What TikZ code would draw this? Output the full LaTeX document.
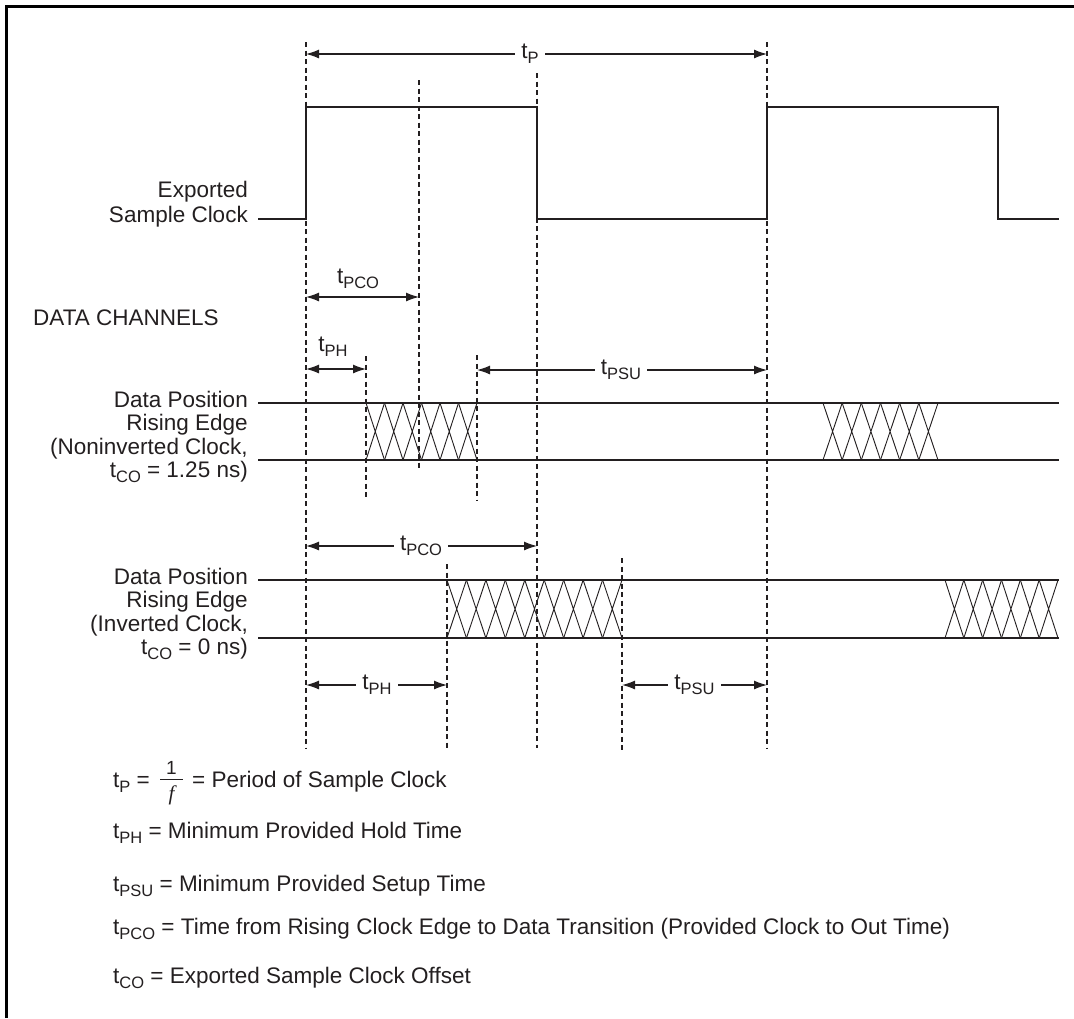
\documentclass[tikz,border=0pt]{standalone}
\usepackage{fontspec}
\setmainfont{Liberation Sans}
\newfontfamily\fracfont{Liberation Serif}
\usetikzlibrary{arrows.meta}
\definecolor{ink}{HTML}{231F20}
\newcommand\ts[1]{t\raisebox{-5pt}{\fontsize{16.5}{16.5}\selectfont #1}}
\newcommand\hatchrow[5]{% x1 x2 n ytop ybot
  \pgfmathsetmacro\hw{(#2-#1)/#3}
  \foreach \i in {1,...,#3}{
    \draw[hatchline] ({#1+(\i-1)*\hw},#4) -- ({#1+\i*\hw},#5)
                     ({#1+(\i-1)*\hw},#5) -- ({#1+\i*\hw},#4);
  }}
\begin{document}
\begin{tikzpicture}[x=1pt,y=-1pt,
  every node/.style={inner sep=0pt, text=ink, font=\fontsize{22.5}{25}\selectfont},
  wave/.style={line width=1.3pt, draw=ink},
  guide/.style={line width=1.1pt, draw=ink, dash pattern=on 5pt off 3.5pt},
  dimarrow/.style={line width=1.2pt, draw=ink, {Latex[length=13pt,width=9pt]}-{Latex[length=13pt,width=9pt]}},
  hatchline/.style={line width=0.9pt, draw=ink},
  gaplbl/.style={fill=white, inner xsep=6pt, inner ysep=1pt},
  leftlbl/.style={anchor=base east},
  legend/.style={anchor=base west}]
\useasboundingbox (0,0) rectangle (1074,1018);
% frame
\draw[line width=3.3pt, draw=black] (6.7,1018) -- (6.7,6.7) -- (1074,6.7);

% guide coordinates
\coordinate (g1t) at (306,42);  \coordinate (g1b) at (306,748);
\coordinate (g2t) at (537,73);  \coordinate (g2b) at (537,748);
\coordinate (g3t) at (767,42);  \coordinate (g3b) at (767,748);
\coordinate (g4t) at (419,80);  \coordinate (g4b) at (419,468);
\coordinate (g5t) at (366,356); \coordinate (g5b) at (366,500);
\coordinate (g6t) at (477,355); \coordinate (g6b) at (477,500);
\coordinate (g7t) at (447,564); \coordinate (g7b) at (447,748);
\coordinate (g8t) at (622,558); \coordinate (g8b) at (622,752);
\foreach \g in {1,...,8}{\draw[guide] (g\g t) -- (g\g b);}

% clock
\draw[wave] (258,219) -- (306,219) -- (306,107) -- (537,107) -- (537,219)
  -- (767,219) -- (767,107) -- (998,107) -- (998,219) -- (1059,219);

% data rows
\draw[wave] (258,403) -- (1059,403);
\draw[wave] (258,460) -- (1059,460);
\draw[wave] (258,580) -- (1059,580);
\draw[wave] (258,638) -- (1059,638);
\hatchrow{366}{477}{6}{403}{460}
\hatchrow{823}{938}{6}{403}{460}
\hatchrow{447}{622}{9}{580}{638}
\hatchrow{945}{1058}{6}{580}{638}

% dimension arrows
\coordinate (aP1) at (306,54);   \coordinate (aP2) at (767,54);
\coordinate (aC1) at (306,297);  \coordinate (aC2) at (419,297);
\coordinate (aH1) at (306,369);  \coordinate (aH2) at (366,369);
\coordinate (aS1) at (477,370);  \coordinate (aS2) at (767,370);
\coordinate (bC1) at (306,546);  \coordinate (bC2) at (537,546);
\coordinate (bH1) at (306,685);  \coordinate (bH2) at (447,685);
\coordinate (bS1) at (622,685);  \coordinate (bS2) at (767,685);
\draw[dimarrow] (aP1) -- (aP2);
\draw[dimarrow] (aC1) -- (aC2);
\draw[dimarrow] (aH1) -- (aH2);
\draw[dimarrow] (aS1) -- (aS2);
\draw[dimarrow] (bC1) -- (bC2);
\draw[dimarrow] (bH1) -- (bH2);
\draw[dimarrow] (bS1) -- (bS2);
\node[gaplbl] (ltP) at (530,53.5) {\ts{P}};
\node[anchor=base] (ltPCO1) at (358,283) {\ts{PCO}};
\node[anchor=base] (ltPH1) at (333,351) {\ts{PH}};
\node[gaplbl] (ltPSU1) at (621,370) {\ts{PSU}};
\node[gaplbl] (ltPCO2) at (421,546) {\ts{PCO}};
\node[gaplbl] (ltPH2) at (377,685) {\ts{PH}};
\node[gaplbl] (ltPSU2) at (694.5,685) {\ts{PSU}};

% left labels
\node[leftlbl] (c1) at (248,197) {Exported};
\node[leftlbl] (c2) at (248,222) {Sample Clock};
\node[anchor=base west] (dc) at (33,325) {DATA CHANNELS};
\node[leftlbl] (r1a) at (248,407) {Data Position};
\node[leftlbl] (r1b) at (248,430.5) {Rising Edge};
\node[leftlbl] (r1c) at (248,454) {(Noninverted Clock,};
\node[leftlbl] (r1d) at (248,477) {\ts{CO} = 1.25 ns)};
\node[leftlbl] (r2a) at (248,584) {Data Position};
\node[leftlbl] (r2b) at (248,607.5) {Rising Edge};
\node[leftlbl] (r2c) at (248,631) {(Inverted Clock,};
\node[leftlbl] (r2d) at (248,654) {\ts{CO} = 0 ns)};

% legend
\node[legend] (L1) at (113,787) {\ts{P} =};
\node[anchor=base] (L1n) at (171.5,774) {\fontsize{19}{19}\selectfont 1};
\coordinate (fb1) at (160,779.5); \coordinate (fb2) at (183,779.5);
\draw[line width=1pt, draw=ink] (fb1) -- (fb2);
\node[anchor=base] (L1d) at (171.5,800) {\fracfont\itshape\fontsize{21}{21}\selectfont f};
\node[legend] (L1r) at (192,787) {= Period of Sample Clock};
\node[legend] (L2) at (113,838) {\ts{PH} = Minimum Provided Hold Time};
\node[legend] (L3) at (113,891) {\ts{PSU} = Minimum Provided Setup Time};
\node[legend] (L4) at (113,934) {\ts{PCO} = Time from Rising Clock Edge to Data Transition (Provided Clock to Out Time)};
\node[legend] (L5) at (113,983) {\ts{CO} = Exported Sample Clock Offset};
\end{tikzpicture}
\end{document}
